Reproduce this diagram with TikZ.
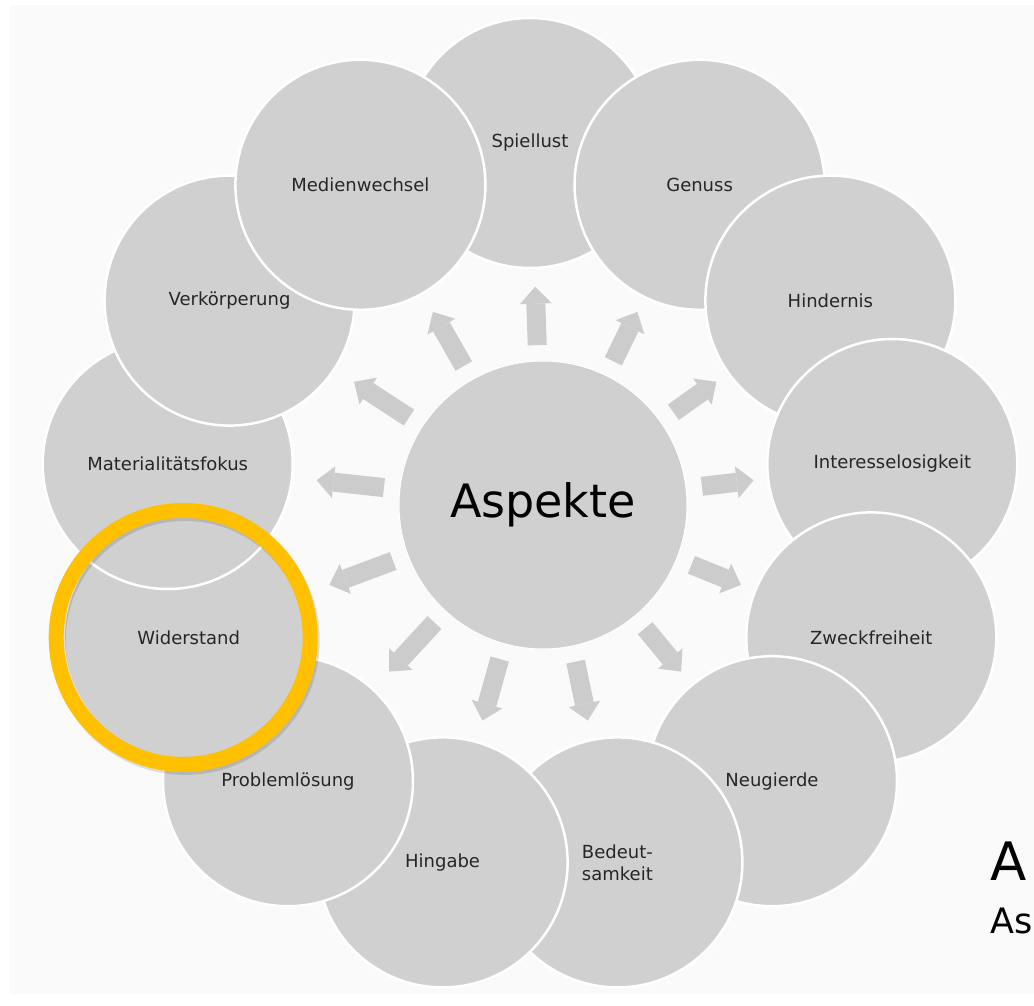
\documentclass[tikz,border=0pt]{standalone}
\usepackage{fontspec}
\setmainfont{DejaVu Sans}
\usetikzlibrary{calc}
\usetikzlibrary{arrows.meta}

\definecolor{bubble}{RGB}{208,208,208}
\definecolor{pfeilgrau}{RGB}{204,204,204}
\definecolor{hintergrund}{RGB}{250,250,250}
\definecolor{markierung}{RGB}{255,192,0}

\begin{document}
\begin{tikzpicture}[x=1pt, y=-1pt,
    aspekt/.style={circle, fill=bubble, draw=white, line width=2.5pt, minimum size=250pt, inner sep=0pt, align=left, text=black!85, font=\fontsize{18}{22}\selectfont},
    blockpfeil/.style={draw=pfeilgrau, line width=19pt, -{Triangle[width=32pt, length=17pt, line width=0pt]}}]
    \useasboundingbox (0,0) rectangle (1034,1006);
    %Hintergrund
    \fill[hintergrund] (10,5) rectangle (1034,994);

    %Spiellust
    \node[aspekt] at (530,143) (spiellust) {Spiellust};
    %Genuss
    \node[aspekt] at (699.6,184.8) (genuss) {Genuss};
    %Hindernis
    \node[aspekt] at (830.4,300.6) (hindernis) {Hindernis};
    %Interesselosigkeit
    \node[aspekt] at (892.3,464) (interesse) {Interesselosigkeit};
    %Zweckfreiheit
    \node[aspekt] at (871.3,637.4) (zweck) {Zweckfreiheit};
    %Neugierde
    \node[aspekt] at (772,781.2) (neugierde) {Neugierde};
    %Bedeutsamkeit
    \node[aspekt] at (617.4,862.4) (bedeutsam) {Bedeut-\\samkeit};
    %Hingabe
    \node[aspekt] at (442.6,862.4) (hingabe) {Hingabe};
    %Problemloesung
    \node[aspekt] at (288,781.2) (problem) {Problemlösung};
    %Widerstand
    \node[aspekt] at (188.7,637.4) (widerstand) {Widerstand};
    %Materialitaetsfokus
    \node[aspekt] at (167.7,464) (material) {Materialitätsfokus};
    %Verkoerperung
    \node[aspekt] at (229.6,300.6) (verkoerperung) {Verkörperung};
    %Medienwechsel
    \node[aspekt] at (360.4,184.8) (medien) {Medienwechsel};

    %Mitte
    \node[circle, fill=bubble, draw=white, line width=1pt, minimum size=288pt, inner sep=0pt, font=\fontsize{46}{52}\selectfont] at (543,505) (aspekte) {Aspekte};

    %Mitte - Aspekte
    \draw[blockpfeil] ($(aspekte)!160pt!(spiellust)$) -- ($(aspekte)!0.603!(spiellust)$);
    \draw[blockpfeil] ($(aspekte)!160pt!(genuss)$) -- ($(aspekte)!0.603!(genuss)$);
    \draw[blockpfeil] ($(aspekte)!160pt!(hindernis)$) -- ($(aspekte)!0.603!(hindernis)$);
    \draw[blockpfeil] ($(aspekte)!160pt!(interesse)$) -- ($(aspekte)!0.603!(interesse)$);
    \draw[blockpfeil] ($(aspekte)!160pt!(zweck)$) -- ($(aspekte)!0.603!(zweck)$);
    \draw[blockpfeil] ($(aspekte)!160pt!(neugierde)$) -- ($(aspekte)!0.603!(neugierde)$);
    \draw[blockpfeil] ($(aspekte)!160pt!(bedeutsam)$) -- ($(aspekte)!0.603!(bedeutsam)$);
    \draw[blockpfeil] ($(aspekte)!160pt!(hingabe)$) -- ($(aspekte)!0.603!(hingabe)$);
    \draw[blockpfeil] ($(aspekte)!160pt!(problem)$) -- ($(aspekte)!0.603!(problem)$);
    \draw[blockpfeil] ($(aspekte)!160pt!(widerstand)$) -- ($(aspekte)!0.603!(widerstand)$);
    \draw[blockpfeil] ($(aspekte)!160pt!(material)$) -- ($(aspekte)!0.603!(material)$);
    \draw[blockpfeil] ($(aspekte)!160pt!(verkoerperung)$) -- ($(aspekte)!0.603!(verkoerperung)$);
    \draw[blockpfeil] ($(aspekte)!160pt!(medien)$) -- ($(aspekte)!0.603!(medien)$);

    %Markierung Widerstand
    \coordinate (markmitte) at ([xshift=-5.5pt]widerstand.center);
    \draw[black, opacity=0.12, line width=15pt] ([xshift=2pt, yshift=-3pt]markmitte) circle (127pt);
    \draw[markierung, line width=15pt] (markmitte) circle (127pt);

    %Abbildung
    \node[anchor=base west, inner sep=0pt, font=\fontsize{53}{60}\selectfont] at (990,880) (abb) {A};
    \node[anchor=base west, inner sep=0pt, font=\fontsize{35}{42}\selectfont] at (990,933) (abbtext) {As};
\end{tikzpicture}
\end{document}
